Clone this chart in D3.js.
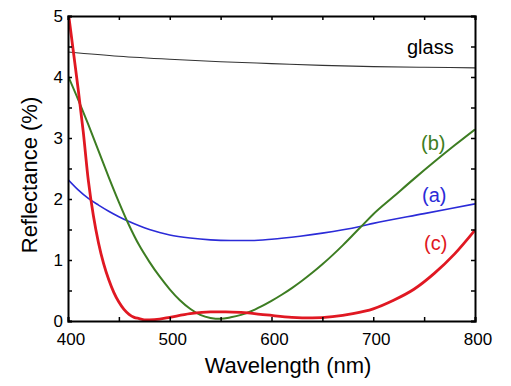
<!DOCTYPE html>
<html>
<head>
<meta charset="utf-8">
<script src="https://cdn.jsdelivr.net/npm/d3@7"></script>
<style>
  body { margin: 0; background: #fff; }
  text { font-family: "Liberation Sans", Arial, sans-serif; }
</style>
</head>
<body>
<svg id="chart" width="511" height="386"></svg>
<script>
"use strict";

// values (wavelength in nm, reflectance in %)
var glassWl = [400, 450, 500, 550, 600, 650, 700, 750, 800];
var glassR  = [4.41, 4.34, 4.29, 4.25, 4.22, 4.19, 4.17, 4.16, 4.15];

var aWl = [400, 410, 420, 430, 440, 450, 460, 470, 480, 490, 500, 520, 540, 560, 580, 600, 628, 650, 687, 700, 750, 800];
var aR  = [2.32, 2.15, 2.01, 1.9, 1.8, 1.71, 1.63, 1.56, 1.5, 1.45, 1.41, 1.36, 1.33, 1.32, 1.32, 1.34, 1.39, 1.44, 1.55, 1.6, 1.76, 1.92];

var bWl = [400, 410, 420, 430, 440, 450, 460, 470, 480, 490, 500, 510, 520, 530, 540, 550, 560, 570, 580, 590, 600, 610, 620, 630, 640, 650, 660, 670, 680, 690, 700, 720, 740, 760, 780, 800];
var bR  = [4.02, 3.63, 3.22, 2.79, 2.36, 1.95, 1.57, 1.24, 0.97, 0.73, 0.52, 0.34, 0.2, 0.1, 0.05, 0.035, 0.06, 0.1, 0.16, 0.24, 0.33, 0.43, 0.54, 0.66, 0.79, 0.93, 1.08, 1.24, 1.41, 1.58, 1.75, 2.04, 2.33, 2.61, 2.88, 3.14];

var cWl = [400, 405, 410, 415, 420, 425, 430, 435, 440, 445, 450, 455, 460, 465, 470, 475, 480, 490, 500, 520, 540, 555, 570, 595, 620, 640, 660, 680, 700, 720, 740, 760, 780, 800];
var cR  = [5.1, 4.45, 3.8, 3.1, 2.3, 1.72, 1.28, 0.94, 0.68, 0.47, 0.31, 0.19, 0.11, 0.06, 0.04, 0.02, 0.02, 0.03, 0.06, 0.12, 0.15, 0.15, 0.14, 0.1, 0.06, 0.05, 0.07, 0.12, 0.2, 0.34, 0.52, 0.78, 1.1, 1.49];

var xTicks = [400, 500, 600, 700, 800];
var yTicks = [0, 1, 2, 3, 4, 5];

var svg = d3.select("#chart");
var plotLeft = 68, plotRight = 475, plotTop = 16, plotBottom = 321;

var x = d3.scaleLinear().domain([400, 800]).range([plotLeft, plotRight]);
var y = d3.scaleLinear().domain([0, 5]).range([plotBottom, plotTop]);

svg.append("rect").attr("width", 511).attr("height", 386).attr("fill", "#fff");

svg.append("defs").append("clipPath").attr("id", "plotclip")
  .append("rect")
  .attr("x", plotLeft).attr("y", plotTop)
  .attr("width", plotRight - plotLeft).attr("height", plotBottom - plotTop);

var plot = svg.append("g").attr("clip-path", "url(#plotclip)");

function drawCurve(wl, vals, color, width) {
  var pts = wl.map(function(w, i) { return [w, vals[i]]; });
  var line = d3.line()
    .x(function(d) { return x(d[0]); })
    .y(function(d) { return y(d[1]); })
    .curve(d3.curveMonotoneX);
  plot.append("path")
    .attr("d", line(pts))
    .attr("fill", "none")
    .attr("stroke", color)
    .attr("stroke-width", width)
    .attr("stroke-linejoin", "round");
}

drawCurve(glassWl, glassR, "#333", 1.1);
drawCurve(aWl, aR, "#2b2bd8", 1.6);
drawCurve(bWl, bR, "#3d7d22", 2);
drawCurve(cWl, cR, "#e01822", 2.8);

// axes with inward ticks, minor ticks on every half step
var tickSize = 4;
var xAll = d3.range(400, 801, 50);
var yAll = d3.range(0, 5.01, 0.5);

svg.append("g")
  .attr("transform", "translate(0," + plotBottom + ")")
  .call(d3.axisBottom(x).tickValues(xAll).tickSize(-tickSize).tickFormat(""));
svg.append("g")
  .attr("transform", "translate(0," + plotTop + ")")
  .call(d3.axisTop(x).tickValues(xAll).tickSize(-tickSize).tickFormat(""));
svg.append("g")
  .attr("transform", "translate(" + plotLeft + ",0)")
  .call(d3.axisLeft(y).tickValues(yAll).tickSize(-tickSize).tickFormat(""));
svg.append("g")
  .attr("transform", "translate(" + plotRight + ",0)")
  .call(d3.axisRight(y).tickValues(yAll).tickSize(-tickSize).tickFormat(""));

svg.selectAll(".domain").attr("stroke", "#000").attr("stroke-width", 2);
svg.selectAll(".tick line").attr("stroke", "#000").attr("stroke-width", 1.5);

// tick labels
svg.append("g").selectAll("text")
  .data(xTicks).enter().append("text")
  .attr("x", function(d) { return x(d) + 3; })
  .attr("y", 345)
  .attr("text-anchor", "middle")
  .attr("font-size", "17px")
  .text(function(d) { return d; });

svg.append("g").selectAll("text")
  .data(yTicks).enter().append("text")
  .attr("x", 63)
  .attr("y", function(d) { return y(d) + 6; })
  .attr("text-anchor", "end")
  .attr("font-size", "17px")
  .text(function(d) { return d; });

// axis titles
svg.append("text")
  .attr("x", 288)
  .attr("y", 373)
  .attr("text-anchor", "middle")
  .attr("font-size", "22px")
  .text("Wavelength (nm)");

svg.append("text")
  .attr("transform", "translate(37,175) rotate(-90)")
  .attr("text-anchor", "middle")
  .attr("font-size", "22px")
  .text("Reflectance (%)");

// curve labels
var labels = [
  {t: "glass", x: 407, y: 54, c: "#000"},
  {t: "(b)", x: 421, y: 150, c: "#3d7d22"},
  {t: "(a)", x: 422, y: 202, c: "#2b2bd8"},
  {t: "(c)", x: 424, y: 250, c: "#e01822"}
];
svg.append("g").selectAll("text")
  .data(labels).enter().append("text")
  .attr("x", function(d) { return d.x; })
  .attr("y", function(d) { return d.y; })
  .attr("font-size", "20px")
  .attr("fill", function(d) { return d.c; })
  .text(function(d) { return d.t; });
</script>
</body>
</html>
